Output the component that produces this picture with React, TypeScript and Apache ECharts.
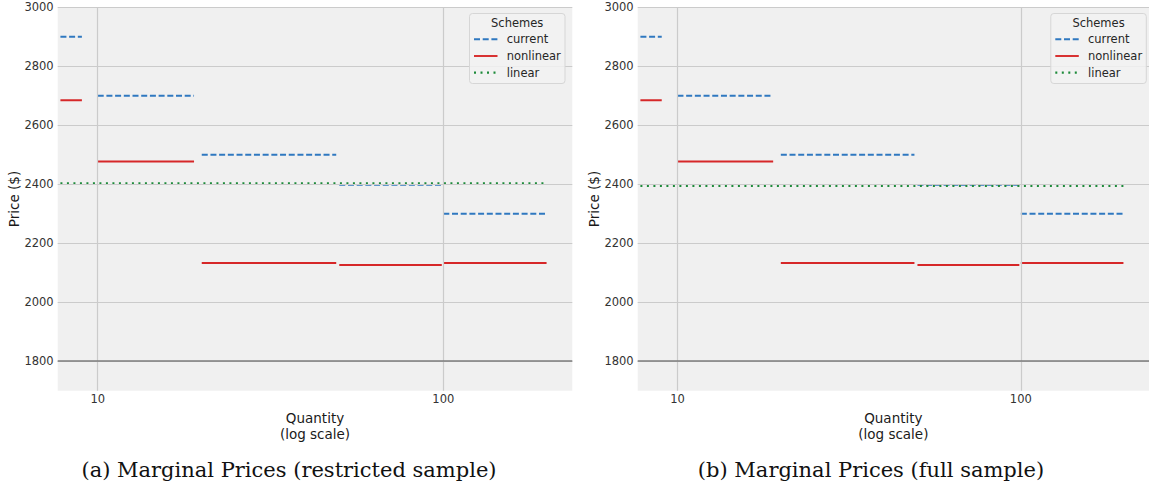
import React, { useEffect, useRef } from 'react';
import * as echarts from 'echarts';

// ---------- data ----------
const SEG_START = [7.8, 10, 20, 50, 100];
const SEG_END = [9, 19, 49, 99, 199];
const CURRENT_A = [2900, 2700, 2500, 2398, 2300];
const NONLINEAR_A = [2685, 2477, 2133, 2126, 2133];
const LINEAR_A = 2403;
const CURRENT_B = [2900, 2700, 2500, 2398, 2300];
const NONLINEAR_B = [2685, 2477, 2133, 2126, 2133];
const LINEAR_B = 2394;
const LINEAR_SPAN = [7.8, 199];
const Y_GRID = [1800, 2000, 2200, 2400, 2600, 2800, 3000];
const X_GRID = [10, 100];
const BASELINE = 1800;
const SCHEMES = ['current', 'nonlinear', 'linear'];
const CAPTIONS = ['(a) Marginal Prices (restricted sample)', '(b) Marginal Prices (full sample)'];

// ---------- styling ----------
const COLORS: Record<string, string> = { current: '#2f78c0', nonlinear: '#d62728', linear: '#1d8a3a' };
const DASH: Record<string, any> = { current: [6, 2.7], nonlinear: 'solid', linear: [2, 4.5] };
const LW = 1.9;
const SANS = '"DejaVu Sans", sans-serif';
const GRID_LEFT = [57.7, 637.7];
const LEGEND_LEFT = [469.5, 1050.8];
const CAPTION_X = [289, 871];

function segSeries(name: string, values: number[], idx: number) {
  return values.map((v, i) => ({
    type: 'line',
    name,
    xAxisIndex: idx,
    yAxisIndex: idx,
    showSymbol: false,
    symbol: 'none',
    silent: true,
    z: 3,
    lineStyle: { color: COLORS[name], width: LW, type: DASH[name] },
    data: [[SEG_START[i], v], [SEG_END[i], v]],
  }));
}

function linearSeries(v: number, idx: number) {
  return {
    type: 'line',
    name: 'linear',
    xAxisIndex: idx,
    yAxisIndex: idx,
    showSymbol: false,
    symbol: 'none',
    silent: true,
    z: 4,
    lineStyle: { color: COLORS.linear, width: LW + 0.3, type: DASH.linear },
    data: [[LINEAR_SPAN[0], v], [LINEAR_SPAN[1], v]],
  };
}

function gridSeries(idx: number) {
  return {
    type: 'line',
    xAxisIndex: idx,
    yAxisIndex: idx,
    silent: true,
    z: 1,
    data: [],
    markLine: {
      silent: true,
      symbol: ['none', 'none'],
      label: { show: false },
      emphasis: { disabled: true },
      data: [
        ...Y_GRID.map((v) => ({ yAxis: v, lineStyle: { color: '#cbcbcb', width: 1.1, type: 'solid' } })),
        ...X_GRID.map((v) => ({ xAxis: v, lineStyle: { color: '#cbcbcb', width: 1.2, type: 'solid' } })),
        { yAxis: BASELINE, lineStyle: { color: '#7c7c7c', width: 1.5, type: 'solid' } },
      ],
    },
  };
}

function legendElements(left: number) {
  const els: any[] = [
    {
      type: 'rect',
      shape: { x: left, y: 13.5, width: 95.5, height: 70, r: 3 },
      style: { fill: 'rgba(242,242,242,0.85)', stroke: '#d6d6d6', lineWidth: 1 },
      z: 100,
    },
    {
      type: 'text',
      x: left + 47.7,
      y: 22.7,
      z: 101,
      style: {
        text: 'Schemes',
        fill: '#262626',
        font: `11.5px ${SANS}`,
        textAlign: 'center',
        textVerticalAlign: 'middle',
        align: 'center',
        verticalAlign: 'middle',
      },
    },
  ];
  SCHEMES.forEach((s, i) => {
    const y = 39.3 + i * 16.7;
    els.push({
      type: 'line',
      z: 101,
      shape: { x1: left + 4.5, y1: y, x2: left + 28, y2: y },
      style: {
        stroke: COLORS[s],
        lineWidth: s === 'linear' ? LW + 0.3 : LW,
        lineDash: Array.isArray(DASH[s]) ? DASH[s] : null,
      },
    });
    els.push({
      type: 'text',
      x: left + 37.2,
      y,
      z: 101,
      style: {
        text: s,
        fill: '#262626',
        font: `11.5px ${SANS}`,
        textAlign: 'left',
        textVerticalAlign: 'middle',
        align: 'left',
        verticalAlign: 'middle',
      },
    });
  });
  return els;
}

function buildOption() {
  const grids = GRID_LEFT.map((l) => ({
    left: l,
    top: 7.3,
    width: 514.6,
    height: 383.4,
    show: true,
    backgroundColor: '#f0f0f0',
    borderWidth: 0,
    containLabel: false,
  }));
  const xAxes = GRID_LEFT.map((_, i) => ({
    type: 'log',
    logBase: 10,
    gridIndex: i,
    min: 7.66,
    max: 236.2,
    axisLine: { show: false },
    axisTick: { show: false },
    splitLine: { show: false },
    axisLabel: {
      showMinLabel: false,
      showMaxLabel: false,
      color: '#333',
      fontSize: 11.5,
      fontFamily: SANS,
      margin: 2,
      formatter: (v: number) => String(Math.round(v)),
    },
    name: 'Quantity\n(log scale)',
    nameLocation: 'middle',
    nameGap: 15,
    nameTextStyle: { color: '#1a1a1a', fontSize: 13.5, fontFamily: SANS, lineHeight: 16 },
  }));
  const yAxes = GRID_LEFT.map((_, i) => ({
    type: 'value',
    gridIndex: i,
    min: 1700,
    max: 3000,
    splitNumber: 7,
    axisLine: { show: false },
    axisTick: { show: false },
    splitLine: { show: false },
    axisLabel: {
      showMinLabel: false,
      color: '#333',
      fontSize: 11.5,
      fontFamily: SANS,
      margin: 4,
      formatter: (v: number) => String(v),
    },
    name: 'Price ($)',
    nameLocation: 'middle',
    nameRotate: 90,
    nameGap: 31,
    nameTextStyle: { color: '#1a1a1a', fontSize: 13.5, fontFamily: SANS },
  }));

  const series: any[] = [
    gridSeries(0),
    gridSeries(1),
    ...segSeries('current', CURRENT_A, 0),
    ...segSeries('nonlinear', NONLINEAR_A, 0),
    linearSeries(LINEAR_A, 0),
    ...segSeries('current', CURRENT_B, 1),
    ...segSeries('nonlinear', NONLINEAR_B, 1),
    linearSeries(LINEAR_B, 1),
  ];

  const graphic: any[] = [
    ...legendElements(LEGEND_LEFT[0]),
    ...legendElements(LEGEND_LEFT[1]),
    ...CAPTIONS.map((c, i) => ({
      type: 'text',
      x: CAPTION_X[i],
      y: 470,
      style: {
        text: c,
        fill: '#111',
        font: '21px "DejaVu Serif", serif',
        textAlign: 'center',
        textVerticalAlign: 'middle',
        align: 'center',
        verticalAlign: 'middle',
      },
    })),
  ];

  return {
    animation: false,
    backgroundColor: '#ffffff',
    grid: grids,
    xAxis: xAxes,
    yAxis: yAxes,
    series,
    graphic,
  };
}

export default function App() {
  const ref = useRef<HTMLDivElement>(null);
  useEffect(() => {
    if (!ref.current) return;
    const chart = echarts.init(ref.current, null, { renderer: 'svg' });
    chart.setOption(buildOption() as any);
    return () => chart.dispose();
  }, []);
  return (
    <div
      ref={ref}
      style={{ position: 'absolute', left: 0, top: 0, width: 1149, height: 490, background: '#fff' }}
    />
  );
}
